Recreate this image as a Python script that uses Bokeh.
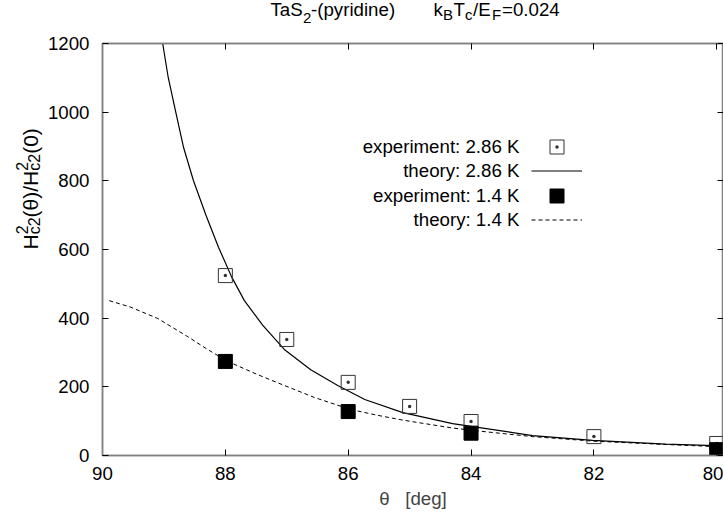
from bokeh.plotting import figure
from bokeh.layouts import column, row
from bokeh.models import (Range1d, LinearAxis, FixedTicker, Label, Legend, LegendItem)
from bokeh.embed import file_html
from bokeh.resources import INLINE

# ---------------- data ----------------
x_ticks = [90, 88, 86, 84, 82, 80]
y_ticks = [0, 200, 400, 600, 800, 1000, 1200]

theta_exp_286 = [88, 87, 86, 85, 84, 82, 80]
h_exp_286 = [524, 338, 213, 143, 99, 55, 35]

theta_exp_14 = [88, 86, 84, 80]
h_exp_14 = [274, 128, 65, 17]

theta_th_286 = [89.02, 88.93, 88.81, 88.68, 88.52, 88.32, 88.11, 87.9, 87.69, 87.39,
                87.04, 86.61, 86.17, 85.73, 85.11, 84.3, 83.0, 82.02, 80.83, 79.89]
h_th_286 = [1200, 1101, 1002, 897, 801, 702, 606, 521, 451, 379,
            309, 250, 204, 163, 125, 93, 58, 44, 33, 28]

theta_th_14 = [89.89, 89.54, 89.1, 88.62, 88.29, 87.96, 87.48, 87.04, 86.55, 85.96,
               85.52, 85.11, 84.3, 83.97, 83.0, 82.02, 80.83, 79.89]
h_th_14 = [451, 432, 399, 347, 309, 274, 236, 204, 169, 134,
           117, 103, 80, 73, 55, 42, 32, 25]

legend_texts = ["experiment: 2.86 K", "theory: 2.86 K", "experiment: 1.4 K", "theory: 1.4 K"]

FONT = "Liberation Sans"
FS = "18.7px"
FS_SMALL = "15px"
FS_Y = "21px"
FS_Y_SMALL = "16px"

TITLE_H = 31
YLAB_W = 44
W, H = 723, 518


def blank_fig(w, h):
    f = figure(width=w, height=h, output_backend="svg", toolbar_location=None,
               x_axis_type=None, y_axis_type=None, x_range=Range1d(0, 1), y_range=Range1d(0, 1),
               min_border=0, min_border_left=0, min_border_right=0, min_border_top=0,
               min_border_bottom=0)
    f.outline_line_color = None
    f.background_fill_color = "white"
    f.border_fill_color = "white"
    return f


def lab(f, text, x, y, size=FS, anchor="bottom_left", angle=0.0):
    f.add_layout(Label(x=x, y=y, x_units="screen", y_units="screen", text=text,
                       text_font=FONT, text_font_size=size, text_color="black",
                       anchor=anchor, angle=angle, angle_units="deg"))


# ---------------- main plot ----------------
p = figure(width=W - YLAB_W, height=H - TITLE_H, output_backend="svg", toolbar_location=None,
           x_range=Range1d(90, 79.89), y_range=Range1d(0, 1200),
           min_border_left=100 - YLAB_W, min_border_right=0, min_border_top=43 - TITLE_H,
           min_border_bottom=63)
p.grid.visible = False
p.outline_line_color = "#808080"
p.outline_line_width = 1.5
p.background_fill_color = "white"
p.border_fill_color = "white"

for ax in p.xaxis:
    ax.ticker = FixedTicker(ticks=x_ticks)
for ax in p.yaxis:
    ax.ticker = FixedTicker(ticks=y_ticks)
for ax in list(p.xaxis) + list(p.yaxis):
    ax.major_tick_in = 6
    ax.major_tick_out = 0
    ax.minor_tick_line_color = None
    ax.major_tick_line_color = "black"
    ax.axis_line_color = "#808080"
    ax.axis_line_width = 1.5
    ax.major_label_text_font = FONT
    ax.major_label_text_font_size = FS
    ax.major_label_text_color = "black"
p.xaxis.major_label_standoff = 11
p.yaxis.major_label_standoff = 13
p.xaxis.axis_label = "\u03b8\u00a0\u00a0\u00a0[deg]"
p.xaxis.axis_label_text_font = FONT
p.xaxis.axis_label_text_font_size = FS
p.xaxis.axis_label_text_font_style = "normal"
p.xaxis.axis_label_standoff = 5

for ticks, place in ((x_ticks, "above"), (y_ticks, "right")):
    mirror = LinearAxis(ticker=FixedTicker(ticks=ticks), major_label_text_font_size="0px",
                        major_label_text_color=None, major_label_standoff=0,
                        major_tick_in=6, major_tick_out=0, minor_tick_line_color=None,
                        axis_line_color="#808080", axis_line_width=1.5)
    p.add_layout(mirror, place)

# ---------------- data glyphs ----------------
r_th286 = p.line(theta_th_286, h_th_286, line_color="black", line_width=1.2)
r_th14 = p.line(theta_th_14, h_th_14, line_color="black", line_width=1, line_dash="4 3")
r_open = p.scatter(theta_exp_286, h_exp_286, marker="square_dot", size=14,
                   fill_color=None, line_color="#333333", line_width=1)
r_fill = p.scatter(theta_exp_14, h_exp_14, marker="square", size=14,
                   fill_color="black", line_color="black")

# legend samples (one legend per entry so each sample gets its own box size)
for rend, gh, loc in ((r_open, 35, (429, 291)), (r_th286, 21, (429, 274)),
                      (r_fill, 35, (429, 242)), (r_th14, 21, (429, 225))):
    lg = Legend(items=[LegendItem(label=" ", renderers=[rend])],
                location=loc, orientation="vertical", glyph_width=51, glyph_height=gh,
                spacing=0, padding=0, margin=0, label_width=0, label_height=gh,
                label_standoff=0, border_line_color=None, background_fill_alpha=0,
                label_text_font_size="1px", label_text_color=None)
    p.add_layout(lg)

# legend texts (right aligned, left of the samples)
for i, t in enumerate(legend_texts):
    lab(p, t, 417, 309 - 24.4 * i, anchor="center_right")

# ---------------- title strip ----------------
tfig = blank_fig(W, TITLE_H)
MAIN_Y = 12
SUB_Y = 9
lab(tfig, "TaS", 270, MAIN_Y)
lab(tfig, "2", 302.5, SUB_Y, size=FS_SMALL)
lab(tfig, "-(pyridine)", 310.5, MAIN_Y)
lab(tfig, "k", 433, MAIN_Y)
lab(tfig, "B", 442.5, SUB_Y, size=FS_SMALL)
lab(tfig, "T", 453, MAIN_Y)
lab(tfig, "c", 464.5, SUB_Y, size=FS_SMALL)
lab(tfig, "/E", 472.5, MAIN_Y)
lab(tfig, "F", 491.5, SUB_Y, size=FS_SMALL)
lab(tfig, "=0.024", 501.5, MAIN_Y)

# ---------------- y label strip (fragments placed by their centres) ----------------
yfig = blank_fig(YLAB_W, H - TITLE_H)
XM, XSUP, XSUB = 29.7, 21.4, 33.9
lab(yfig, "H", XM, 213.6, size=FS_Y, anchor="center", angle=90)
lab(yfig, "2", XSUP, 225.6, size=FS_Y_SMALL, anchor="center", angle=90)
lab(yfig, "c2", XSUB, 229.6, size=FS_Y_SMALL, anchor="center", angle=90)
lab(yfig, "(\u03b8)/H", XM, 261.4, size=FS_Y, anchor="center", angle=90)
lab(yfig, "2", XSUP, 289.2, size=FS_Y_SMALL, anchor="center", angle=90)
lab(yfig, "c2", XSUB, 293.2, size=FS_Y_SMALL, anchor="center", angle=90)
lab(yfig, "(0)", XM, 314.5, size=FS_Y, anchor="center", angle=90)

layout = column(tfig, row(yfig, p, spacing=0), spacing=0)
open("out.html", "w").write(file_html(layout, INLINE))
